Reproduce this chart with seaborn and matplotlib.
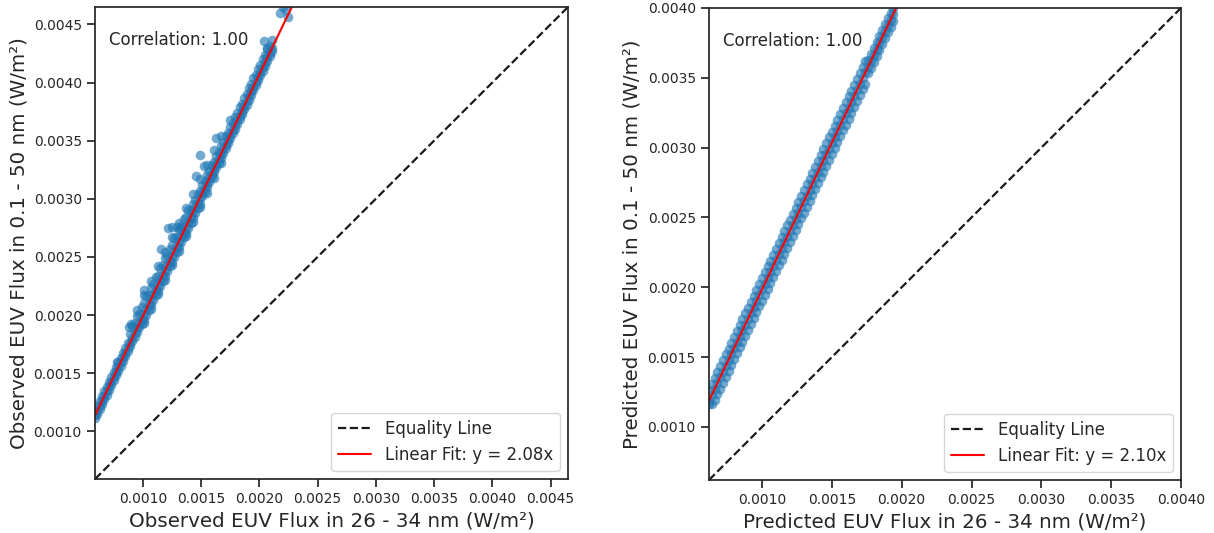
import numpy as np
import pandas as pd
import matplotlib
matplotlib.use("Agg")
import matplotlib.pyplot as plt
from matplotlib.ticker import MultipleLocator
import seaborn as sns

# Observed 26-34 nm flux (x) vs observed 0.1-50 nm flux (y)
obs_x = [0.00059, 0.00061, 0.00063, 0.00065, 0.00067, 0.00069, 0.00071, 0.00073, 0.00075, 0.00077,
         0.00079, 0.00081, 0.00083, 0.00085, 0.00087, 0.00089, 0.00091, 0.00093, 0.00095, 0.00097,
         0.00099, 0.00101, 0.00103, 0.00105, 0.00107, 0.00109, 0.00111, 0.00113, 0.00115, 0.00117,
         0.00119, 0.00121, 0.00123, 0.00125, 0.00127, 0.00129, 0.00131, 0.00133, 0.00135, 0.00137,
         0.00139, 0.00141, 0.00143, 0.00145, 0.00147, 0.00149, 0.00151, 0.00153, 0.00155, 0.00157,
         0.00159, 0.00161, 0.00163, 0.00165, 0.00167, 0.00169, 0.00171, 0.00173, 0.00175, 0.00177,
         0.00179, 0.00181, 0.00183, 0.00185, 0.00187, 0.00189, 0.00191, 0.00193, 0.00195, 0.00197,
         0.00199, 0.00201, 0.00203, 0.00205, 0.00207, 0.00209, 0.00211]
obs_y_mid = [0.001137, 0.001179, 0.001220, 0.001262, 0.001304, 0.001345, 0.001387, 0.001428, 0.001470, 0.001512,
             0.001553, 0.001595, 0.001636, 0.001678, 0.001720, 0.001761, 0.001803, 0.001844, 0.001886, 0.001928,
             0.001969, 0.002011, 0.002052, 0.002094, 0.002136, 0.002177, 0.002219, 0.002260, 0.002302, 0.002344,
             0.002385, 0.002427, 0.002468, 0.002510, 0.002552, 0.002593, 0.002635, 0.002676, 0.002718, 0.002760,
             0.002801, 0.002843, 0.002884, 0.002926, 0.002968, 0.003009, 0.003051, 0.003092, 0.003134, 0.003176,
             0.003217, 0.003259, 0.003300, 0.003342, 0.003384, 0.003425, 0.003467, 0.003508, 0.003550, 0.003592,
             0.003633, 0.003675, 0.003716, 0.003758, 0.003800, 0.003841, 0.003883, 0.003924, 0.003966, 0.004008,
             0.004049, 0.004091, 0.004132, 0.004174, 0.004216, 0.004257, 0.004299]
obs_y_up = [0.001177, 0.001219, 0.001260, 0.001302, 0.001344, 0.001385, 0.001427, 0.001468, 0.001510, 0.001552,
            0.001593, 0.001635, 0.001676, 0.001718, 0.001760, 0.001841, 0.001903, 0.001934, 0.001996, 0.002008,
            0.002069, 0.002101, 0.002162, 0.002174, 0.002236, 0.002267, 0.002329, 0.002340, 0.002402, 0.002434,
            0.002495, 0.002507, 0.002568, 0.002600, 0.002662, 0.002673, 0.002735, 0.002766, 0.002828, 0.002840,
            0.002901, 0.002903, 0.002954, 0.002986, 0.003038, 0.003069, 0.003121, 0.003152, 0.003204, 0.003236,
            0.003287, 0.003319, 0.003370, 0.003402, 0.003454, 0.003485, 0.003537, 0.003568, 0.003620, 0.003652,
            0.003703, 0.003735, 0.003786, 0.003818, 0.003870, 0.003901, 0.003953, 0.003984, 0.004036, 0.004068,
            0.004119, 0.004151, 0.004202, 0.004234, 0.004286, 0.004317, 0.004369]
obs_y_low = [0.001117, 0.001149, 0.001190, 0.001232, 0.001274, 0.001315, 0.001357, 0.001398, 0.001440, 0.001482,
             0.001523, 0.001565, 0.001606, 0.001648, 0.001690, 0.001731, 0.001773, 0.001814, 0.001856, 0.001898,
             0.001919, 0.001961, 0.002002, 0.002044, 0.002086, 0.002127, 0.002169, 0.002210, 0.002252, 0.002294,
             0.002335, 0.002377, 0.002418, 0.002460, 0.002502, 0.002543, 0.002585, 0.002626, 0.002668, 0.002710,
             0.002751, 0.002793, 0.002834, 0.002876, 0.002918, 0.002959, 0.003021, 0.003062, 0.003104, 0.003146,
             0.003187, 0.003229, 0.003270, 0.003312, 0.003354, 0.003395, 0.003437, 0.003478, 0.003520, 0.003562,
             0.003603, 0.003645, 0.003686, 0.003728, 0.003770, 0.003811, 0.003853, 0.003894, 0.003936, 0.003978,
             0.004019, 0.004061, 0.004102, 0.004144, 0.004186, 0.004227, 0.004269]
# scattered points off the main band (wider middle part, outliers, top cluster)
obs_extra_x = [0.00095, 0.00101, 0.00107, 0.00113, 0.00119, 0.00125, 0.00131, 0.00137, 0.00143, 0.00149,
               0.00155, 0.00161, 0.00167,
               0.00101, 0.00107, 0.00113, 0.00119, 0.00125, 0.00131, 0.00137, 0.00143, 0.00149, 0.00155,
               0.00161, 0.00167,
               0.001489, 0.001455, 0.001523, 0.001214, 0.001250, 0.001290, 0.001317, 0.001154, 0.001009,
               0.000880, 0.000895, 0.000777, 0.00163, 0.00175, 0.00204, 0.00207,
               0.002175, 0.002244, 0.002230, 0.002200]
obs_extra_y = [0.002046, 0.002171, 0.002296, 0.002420, 0.002545, 0.002670, 0.002795, 0.002920, 0.003044, 0.003169,
               0.003294, 0.003419, 0.003544,
               0.001931, 0.002056, 0.002180, 0.002305, 0.002430, 0.002555, 0.002680, 0.002804, 0.002929, 0.003054,
               0.003179, 0.003304,
               0.003377, 0.003196, 0.003282, 0.002750, 0.002760, 0.002760, 0.002750, 0.002570, 0.002219,
               0.001901, 0.001920, 0.001593, 0.003520, 0.003680, 0.004360, 0.004300,
               0.004594, 0.004560, 0.004620, 0.004650]
# linear fit: slope, intercept
obs_fit = (2.08, -0.00009)

# Predicted 26-34 nm flux (x) vs predicted 0.1-50 nm flux (y)
pred_x = [0.00062, 0.00064, 0.00066, 0.00068, 0.00070, 0.00072, 0.00074, 0.00076, 0.00078, 0.00080,
          0.00082, 0.00084, 0.00086, 0.00088, 0.00090, 0.00092, 0.00094, 0.00096, 0.00098, 0.00100,
          0.00102, 0.00104, 0.00106, 0.00108, 0.00110, 0.00112, 0.00114, 0.00116, 0.00118, 0.00120,
          0.00122, 0.00124, 0.00126, 0.00128, 0.00130, 0.00132, 0.00134, 0.00136, 0.00138, 0.00140,
          0.00142, 0.00144, 0.00146, 0.00148, 0.00150, 0.00152, 0.00154, 0.00156, 0.00158, 0.00160,
          0.00162, 0.00164, 0.00166, 0.00168, 0.00170, 0.00172, 0.00174, 0.00176, 0.00178, 0.00180,
          0.00182, 0.00184, 0.00186, 0.00188, 0.00190, 0.00192, 0.00194]
pred_y_mid = [0.001187, 0.001229, 0.001271, 0.001313, 0.001355, 0.001397, 0.001439, 0.001481, 0.001523, 0.001565,
              0.001607, 0.001649, 0.001691, 0.001733, 0.001775, 0.001817, 0.001859, 0.001901, 0.001943, 0.001985,
              0.002027, 0.002069, 0.002111, 0.002153, 0.002195, 0.002237, 0.002279, 0.002321, 0.002363, 0.002405,
              0.002447, 0.002489, 0.002531, 0.002573, 0.002615, 0.002657, 0.002699, 0.002741, 0.002783, 0.002825,
              0.002867, 0.002909, 0.002951, 0.002993, 0.003035, 0.003077, 0.003119, 0.003161, 0.003203, 0.003245,
              0.003287, 0.003329, 0.003371, 0.003413, 0.003455, 0.003497, 0.003539, 0.003581, 0.003623, 0.003665,
              0.003707, 0.003749, 0.003791, 0.003833, 0.003875, 0.003917, 0.003959]
pred_y_up = [0.001267, 0.001309, 0.001351, 0.001393, 0.001435, 0.001477, 0.001519, 0.001561, 0.001603, 0.001645,
             0.001687, 0.001729, 0.001771, 0.001813, 0.001855, 0.001897, 0.001939, 0.001981, 0.002023, 0.002065,
             0.002107, 0.002149, 0.002191, 0.002233, 0.002275, 0.002317, 0.002359, 0.002401, 0.002443, 0.002485,
             0.002527, 0.002569, 0.002611, 0.002653, 0.002695, 0.002737, 0.002779, 0.002821, 0.002863, 0.002905,
             0.002947, 0.002989, 0.003031, 0.003073, 0.003115, 0.003157, 0.003199, 0.003241, 0.003283, 0.003325,
             0.003367, 0.003409, 0.003451, 0.003493, 0.003535, 0.003577, 0.003619, 0.003631, 0.003673, 0.003715,
             0.003757, 0.003799, 0.003841, 0.003883, 0.003925, 0.003967, 0.004000]
pred_y_low = [0.001165, 0.001165, 0.001191, 0.001233, 0.001275, 0.001317, 0.001359, 0.001401, 0.001443, 0.001485,
              0.001527, 0.001569, 0.001611, 0.001653, 0.001695, 0.001737, 0.001779, 0.001821, 0.001863, 0.001905,
              0.001947, 0.001989, 0.002031, 0.002073, 0.002115, 0.002157, 0.002199, 0.002241, 0.002283, 0.002325,
              0.002367, 0.002409, 0.002451, 0.002493, 0.002535, 0.002577, 0.002619, 0.002661, 0.002703, 0.002745,
              0.002787, 0.002829, 0.002871, 0.002913, 0.002955, 0.002997, 0.003039, 0.003081, 0.003123, 0.003165,
              0.003207, 0.003249, 0.003291, 0.003333, 0.003375, 0.003417, 0.003459, 0.003531, 0.003573, 0.003615,
              0.003657, 0.003699, 0.003741, 0.003783, 0.003825, 0.003867, 0.003909]
pred_fit = (2.10, -0.000115)


def to_frame(x, rows, extra_x=(), extra_y=()):
    xs, ys = [], []
    for r in rows:
        xs += list(x)
        ys += list(r)
    xs += list(extra_x)
    ys += list(extra_y)
    return pd.DataFrame({"x": xs, "y": ys})


obs = to_frame(obs_x, [obs_y_mid, obs_y_up, obs_y_low], obs_extra_x, obs_extra_y)
pred = to_frame(pred_x, [pred_y_mid, pred_y_up, pred_y_low])

sns.set_theme(style="ticks")
plt.rcParams["font.family"] = ["DejaVu Sans"]

fig = plt.figure(figsize=(12.14, 5.33), dpi=100)
ax1 = fig.add_axes([0.0783, 0.1013, 0.3896, 0.8856])
ax2 = fig.add_axes([0.5840, 0.0994, 0.3888, 0.8856])

panels = [
    (ax1, obs, obs_fit, "Observed EUV Flux in 26 - 34 nm (W/m²)", "Observed EUV Flux in 0.1 - 50 nm (W/m²)"),
    (ax2, pred, pred_fit, "Predicted EUV Flux in 26 - 34 nm (W/m²)", "Predicted EUV Flux in 0.1 - 50 nm (W/m²)"),
]

for ax, df, fit, xlab, ylab in panels:
    sns.scatterplot(data=df, x="x", y="y", ax=ax, s=48, alpha=0.62, color="#1f77b4",
                    linewidth=0, legend=False)
    lo = min(df["x"].min(), df["y"].min())
    hi = max(df["x"].max(), df["y"].max())
    ax.plot([lo, hi], [lo, hi], "k--", lw=1.6, label="Equality Line")
    slope, intercept = fit
    xs = np.array([lo, hi])
    ax.plot(xs, slope * xs + intercept, color="red", lw=1.5, label=f"Linear Fit: y = {slope:.2f}x")
    r = np.corrcoef(df["x"], df["y"])[0, 1]
    ax.text(0.03, 0.95, f"Correlation: {r:.2f}", transform=ax.transAxes, va="top", fontsize=12)
    ax.set_xlim(lo, hi)
    ax.set_ylim(lo, hi)
    ax.xaxis.set_major_locator(MultipleLocator(0.0005))
    ax.yaxis.set_major_locator(MultipleLocator(0.0005))
    ax.set_xlabel(xlab, fontsize=14.3)
    ax.set_ylabel(ylab, fontsize=14.3)
    ax.tick_params(labelsize=10)
    ax.legend(loc="lower right", fontsize=12)

fig.savefig("out.png", dpi=100)
